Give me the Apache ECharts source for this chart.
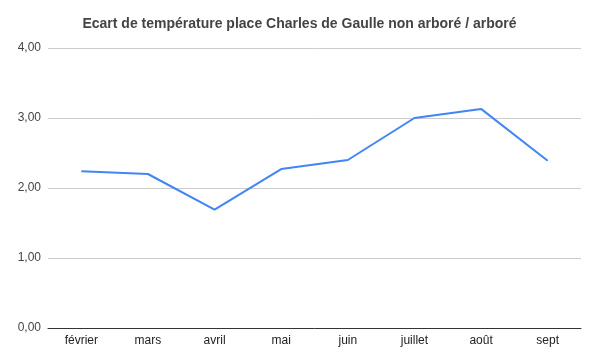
<!DOCTYPE html>
<html><head><meta charset="utf-8">
<script src="https://cdn.jsdelivr.net/npm/echarts@6/dist/echarts.min.js"></script>
<style>html,body{margin:0;padding:0;background:#fff}#c{width:599px;height:360px}</style>
</head><body><div id="c"></div>
<script>
const categories = ['février','mars','avril','mai','juin','juillet','août','sept'];
const values = [2.24, 2.20, 1.69, 2.27, 2.40, 3.00, 3.13, 2.39];
const yTicks = [0, 1, 2, 3, 4];
const title = 'Ecart de température place Charles de Gaulle non arboré / arboré';

const chart = echarts.init(document.getElementById('c'), null, {renderer:'canvas'});
chart.setOption({
  animation: false,
  backgroundColor: '#ffffff',
  title: {
    text: title, left: 'center', top: 12,
    textStyle: {fontFamily: 'Arial, Liberation Sans', fontSize: 14, fontWeight: 'bold', color: '#444444'}
  },
  grid: {left: 48, right: 18, top: 48, bottom: 32, containLabel: false},
  xAxis: {
    type: 'category', data: categories, boundaryGap: true,
    axisLine: {lineStyle: {color: '#333333', width: 1}},
    axisTick: {show: false},
    axisLabel: {fontFamily: 'Arial, Liberation Sans', fontSize: 12, color: '#222222', margin: 7}
  },
  yAxis: {
    type: 'value', min: yTicks[0], max: yTicks[yTicks.length-1], interval: 1,
    axisLine: {show: false}, axisTick: {show: false},
    splitLine: {lineStyle: {color: '#cccccc', width: 1}},
    axisLabel: {fontFamily: 'Arial, Liberation Sans', fontSize: 12, color: '#444444', margin: 7,
      formatter: v => v.toFixed(2).replace('.', ',')}
  },
  series: [{
    type: 'line', data: values, symbol: 'none',
    lineStyle: {color: '#4285F4', width: 2}
  }]
});
</script></body></html>
